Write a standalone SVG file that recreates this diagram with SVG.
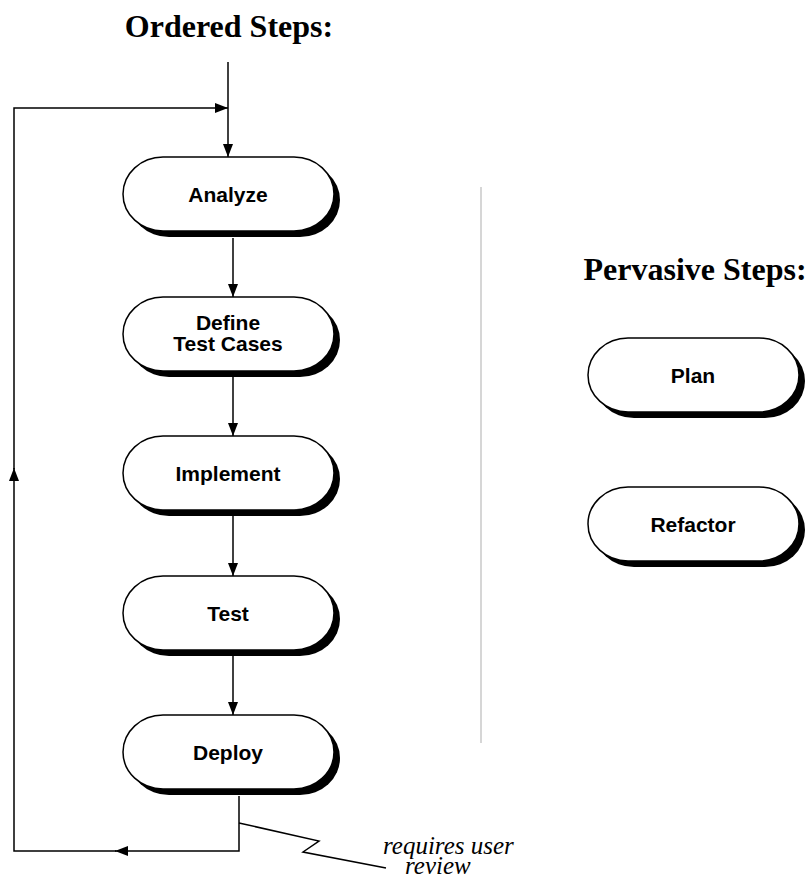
<svg xmlns="http://www.w3.org/2000/svg" width="809" height="880" viewBox="0 0 809 880">
  <style>
    .title { font-family: "Liberation Serif", "Times New Roman", serif; font-weight: bold; font-size: 32px; fill: #000; text-anchor: middle; }
    .label { font-family: "Liberation Sans", Arial, sans-serif; font-weight: bold; font-size: 21px; fill: #000; text-anchor: middle; }
    .note { font-family: "Liberation Serif", "Times New Roman", serif; font-style: italic; font-size: 25px; fill: #000; }
    .box { fill: #fff; stroke: #000; stroke-width: 1.5; }
    .shadow { fill: #000; }
    .wire { fill: none; stroke: #000; stroke-width: 1.5; }
    .divider { stroke: #c8c8c8; stroke-width: 1.5; }
  </style>
  <defs>
    <marker id="arrow" viewBox="0 0 13 10" refX="13" refY="5" markerWidth="13" markerHeight="10" markerUnits="userSpaceOnUse" orient="auto">
      <path d="M0,0 L13,5 L0,10 Z" fill="#000"/>
    </marker>
    <g id="step">
      <rect class="shadow" x="6" y="6" width="211" height="74" rx="40" ry="37"/>
      <rect class="box" x="0" y="0" width="211" height="74" rx="40" ry="37"/>
    </g>
  </defs>

  <rect width="809" height="880" fill="#fff"/>

  <!-- headings -->
  <text class="title" x="229" y="37">Ordered Steps:</text>
  <text class="title" x="695" y="280">Pervasive Steps:</text>

  <!-- divider between the two columns -->
  <line class="divider" x1="481" y1="187" x2="481" y2="743"/>

  <!-- connectors -->
  <g id="connectors">
    <path class="wire" d="M228,62 V157" marker-end="url(#arrow)"/>
    <path class="wire" d="M233,238 V297" marker-end="url(#arrow)"/>
    <path class="wire" d="M233,377 V436" marker-end="url(#arrow)"/>
    <path class="wire" d="M233,516 V576" marker-end="url(#arrow)"/>
    <path class="wire" d="M233,656 V715" marker-end="url(#arrow)"/>
    <!-- feedback loop from Deploy back to the start -->
    <path class="wire" d="M239,796 V851 H115" marker-end="url(#arrow)"/>
    <path class="wire" d="M116,851 H14 V468" marker-end="url(#arrow)"/>
    <path class="wire" d="M14,469 V108 H228" marker-end="url(#arrow)"/>
    <!-- annotation leader -->
    <path class="wire" stroke-width="1.3" d="M239,823 L319,841 L303,852 L386,868"/>
  </g>

  <g id="analyze">
    <use href="#step" x="123" y="157"/>
    <text class="label" x="228" y="202">Analyze</text>
  </g>
  <g id="define-test-cases">
    <use href="#step" x="123" y="297"/>
    <text class="label" x="228" y="330">Define</text>
    <text class="label" x="228" y="351">Test Cases</text>
  </g>
  <g id="implement">
    <use href="#step" x="123" y="436"/>
    <text class="label" x="228" y="481">Implement</text>
  </g>
  <g id="test">
    <use href="#step" x="123" y="576"/>
    <text class="label" x="228" y="621">Test</text>
  </g>
  <g id="deploy">
    <use href="#step" x="123" y="715"/>
    <text class="label" x="228" y="760">Deploy</text>
  </g>

  <g id="plan">
    <use href="#step" x="588" y="338"/>
    <text class="label" x="693" y="383">Plan</text>
  </g>
  <g id="refactor">
    <use href="#step" x="588" y="487"/>
    <text class="label" x="693" y="532">Refactor</text>
  </g>

  <g id="note">
    <text class="note" x="383" y="854">requires user</text>
    <text class="note" x="405" y="874">review</text>
  </g>
</svg>
